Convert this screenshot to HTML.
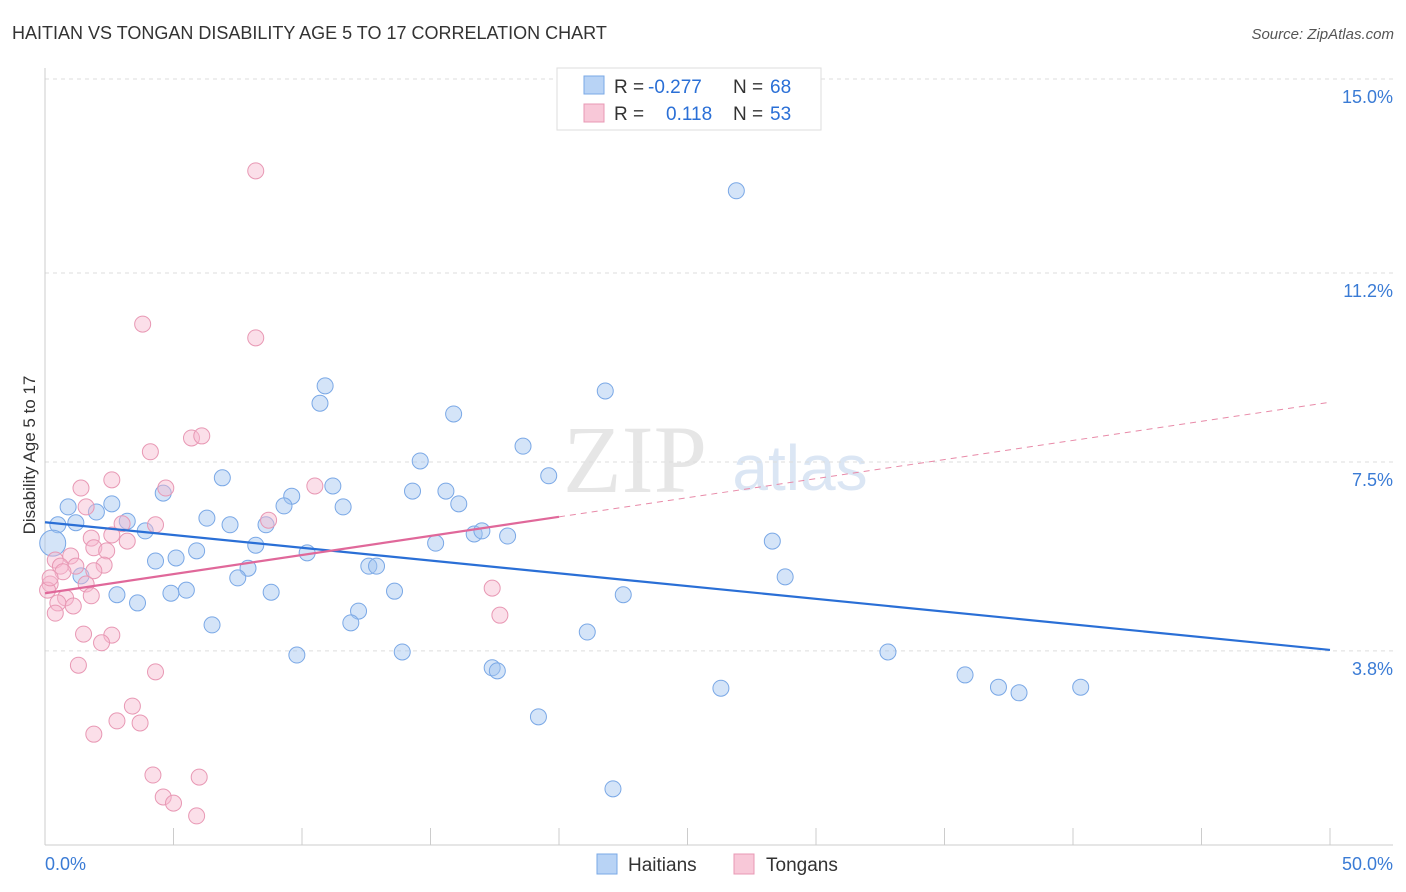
<!DOCTYPE html>
<html><head><meta charset="utf-8"><style>
body{margin:0;background:#fff;font-family:"Liberation Sans",sans-serif;}
svg{display:block}
</style></head><body>
<svg id="c" width="1406" height="892">
<text x="12" y="39" font-size="18" fill="#333">HAITIAN VS TONGAN DISABILITY AGE 5 TO 17 CORRELATION CHART</text>
<text x="1394" y="39" font-size="15" fill="#555" text-anchor="end" font-style="italic">Source: ZipAtlas.com</text>
<text x="35" y="455" font-size="17" fill="#333" text-anchor="middle" transform="rotate(-90 35 455)">Disability Age 5 to 17</text>
<text x="635" y="492" font-size="96" fill="#e6e6e6" font-family="Liberation Serif" text-anchor="middle">ZIP</text>
<text x="800" y="490" font-size="64" fill="#dbe6f4" text-anchor="middle">atlas</text>
<g id="grid"></g><g id="marks"></g>
<g>
<rect x="557" y="68" width="264" height="62" fill="#fff" stroke="#ddd"/>
<rect x="584" y="76" width="20" height="18" fill="#b8d3f5" stroke="#7aa8e6"/>
<text x="614" y="93" font-size="19" fill="#333">R =</text><text x="648" y="93" font-size="19" fill="#2a6fd6">-0.277</text>
<text x="733" y="93" font-size="19" fill="#333">N =</text><text x="770" y="93" font-size="19" fill="#2a6fd6">68</text>
<rect x="584" y="104" width="20" height="18" fill="#f8c8d8" stroke="#e898b4"/>
<text x="614" y="120" font-size="19" fill="#333">R =</text><text x="666" y="120" font-size="19" fill="#2a6fd6">0.118</text>
<text x="733" y="120" font-size="19" fill="#333">N =</text><text x="770" y="120" font-size="19" fill="#2a6fd6">53</text>
</g>
<g>
<rect x="597" y="854" width="20" height="20" fill="#b8d3f5" stroke="#7aa8e6"/>
<text x="628" y="871" font-size="19" fill="#333">Haitians</text>
<rect x="734" y="854" width="20" height="20" fill="#f8c8d8" stroke="#e898b4"/>
<text x="766" y="871" font-size="19" fill="#333">Tongans</text>
</g>
</svg>
<script>
const yTicks=[15.0,11.2,7.5,3.8];
const yTickLabels=["15.0%","11.2%","7.5%","3.8%"];
const xTickVals=[5,10,15,20,25,30,35,40,45,50];
const blueX=[26.9,21.8,10.9,10.7,15.9,18.6,14.6,19.6,6.9,4.6,11.2,9.6,14.3,15.6,16.1,11.6,9.3,2.6,0.9,2.0,3.2,1.2,0.5,3.9,6.3,7.2,8.6,16.7,17.0,18.0,15.2,8.2,5.9,10.2,4.3,5.1,7.9,12.6,12.9,7.5,28.8,1.4,28.3,5.5,4.9,8.8,13.6,2.8,3.6,22.5,12.2,11.9,6.5,21.1,9.8,13.9,32.8,17.4,17.6,35.8,26.3,37.1,37.9,40.3,19.2,22.1,0.3];
const blueY=[12.81,8.89,8.99,8.65,8.44,7.81,7.52,7.23,7.19,6.89,7.03,6.83,6.93,6.93,6.68,6.62,6.64,6.68,6.62,6.52,6.34,6.31,6.27,6.15,6.40,6.27,6.27,6.09,6.15,6.05,5.91,5.87,5.76,5.72,5.56,5.62,5.42,5.46,5.46,5.23,5.25,5.27,5.95,4.99,4.93,4.95,4.97,4.90,4.74,4.90,4.58,4.35,4.31,4.17,3.72,3.78,3.78,3.47,3.41,3.33,3.07,3.09,2.98,3.09,2.51,1.10,5.91];
const pinkX=[8.2,3.8,8.2,4.1,5.7,6.1,4.7,2.6,1.4,10.5,1.6,8.7,3.0,4.3,1.8,2.6,3.2,1.9,2.4,1.0,0.4,0.6,1.2,2.3,1.9,0.7,0.2,0.1,1.6,0.8,1.8,0.5,1.1,0.4,17.4,17.7,1.5,2.6,2.2,1.3,4.3,3.4,2.8,3.7,1.9,4.2,6.0,4.6,5.0,5.9,0.2];
const pinkY=[13.2,10.2,9.93,7.70,7.97,8.01,6.99,7.15,6.99,7.03,6.62,6.36,6.29,6.27,6.01,6.07,5.95,5.82,5.76,5.66,5.58,5.46,5.46,5.48,5.37,5.35,5.11,4.99,5.11,4.84,4.88,4.74,4.68,4.54,5.03,4.50,4.13,4.11,3.96,3.52,3.39,2.72,2.43,2.39,2.17,1.37,1.33,0.94,0.82,0.57,5.23];
const blueTrend=[6.32,3.82]; // at x=0 and x=50
const pinkTrend=[4.93,8.67]; // at x=0 and x=50; solid until 20
const pinkSolidEnd=20;
const X=v=>45+v*25.7, Y=v=>845-v*51.07;
const NS="http://www.w3.org/2000/svg";
function mk(t,a,p){const e=document.createElementNS(NS,t);for(const k in a)e.setAttribute(k,a[k]);p.appendChild(e);return e;}
const g=document.getElementById('grid'), m=document.getElementById('marks');
yTicks.forEach((v,i)=>{
 const l=mk('line',{x1:45,x2:1393,y1:Y(v),y2:Y(v),stroke:'#ddd','stroke-dasharray':'4,4'},g);
 
 
 const t=mk('text',{x:1393,y:Y(v)+24,'font-size':18,fill:'#3a7bd5','text-anchor':'end'},g);t.textContent=yTickLabels[i];
 
 
});
mk('line',{x1:45,x2:45,y1:68,y2:845,stroke:'#ccc'},g);
mk('line',{x1:45,x2:1393,y1:845,y2:845,stroke:'#ccc'},g);
xTickVals.forEach(v=>{const l=mk('line',{x1:X(v),x2:X(v),y1:828,y2:845,stroke:'#ccc'},g);
 
 });
let t0=mk('text',{x:45,y:870,'font-size':18,fill:'#3a7bd5'},g);t0.textContent='0.0%';


let t1=mk('text',{x:1393,y:870,'font-size':18,fill:'#3a7bd5','text-anchor':'end'},g);t1.textContent='50.0%';


blueX.forEach((x,i)=>{const c=mk('circle',{cx:X(x),cy:Y(blueY[i]),r:i==blueX.length-1?13:8,fill:'rgba(160,196,240,0.45)',stroke:'#7aa8e6','stroke-width':1},m);
 
 });
pinkX.forEach((x,i)=>{const c=mk('circle',{cx:X(x),cy:Y(pinkY[i]),r:8,fill:'rgba(246,184,206,0.45)',stroke:'#e898b4','stroke-width':1},m);
 
 });
const pAt=x=>pinkTrend[0]+(pinkTrend[1]-pinkTrend[0])*x/50;
let bl=mk('line',{x1:X(0),y1:Y(blueTrend[0]),x2:X(50),y2:Y(blueTrend[1]),stroke:'#2a6fd6','stroke-width':2.2},m);


let pl=mk('line',{x1:X(0),y1:Y(pAt(0)),x2:X(pinkSolidEnd),y2:Y(pAt(pinkSolidEnd)),stroke:'#e0689a','stroke-width':2.2},m);


let pd=mk('line',{x1:X(pinkSolidEnd),y1:Y(pAt(pinkSolidEnd)),x2:X(50),y2:Y(pAt(50)),stroke:'#e88aa8','stroke-width':1,'stroke-dasharray':'6,5'},m);


</script>
</body></html>
